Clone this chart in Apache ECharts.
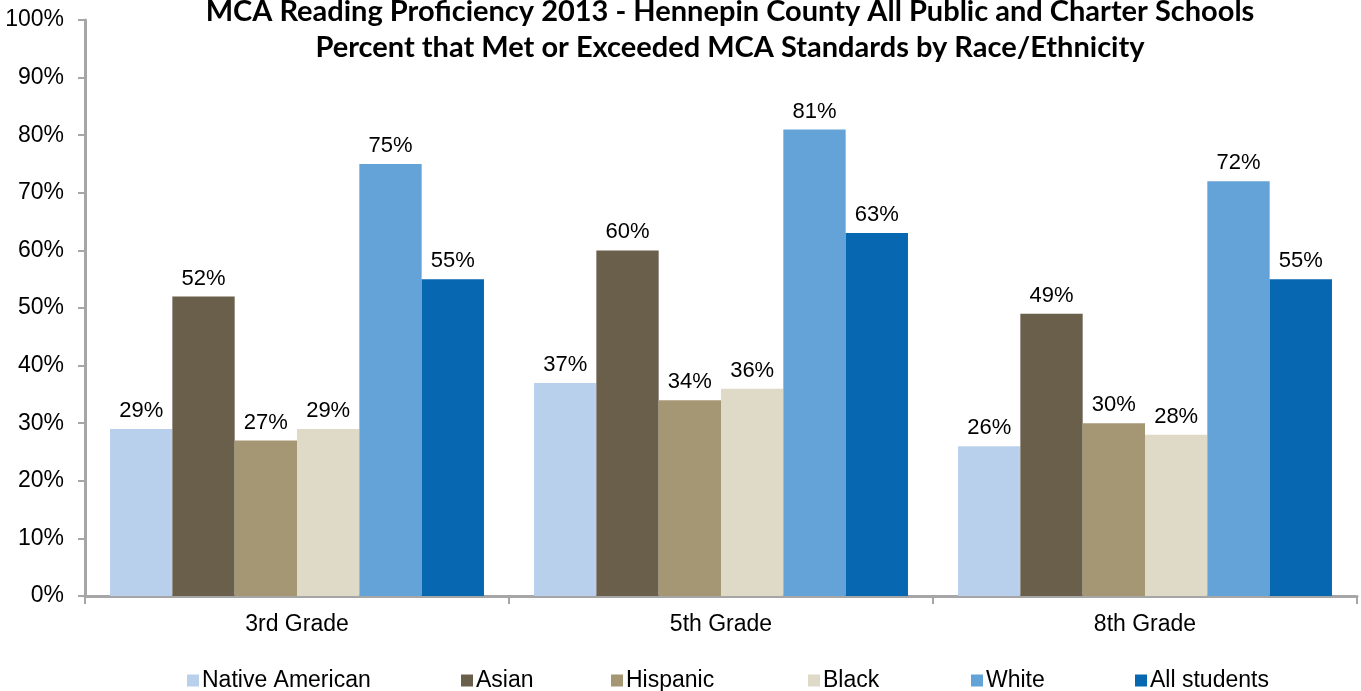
<!DOCTYPE html>
<html><head><meta charset="utf-8">
<script src="https://cdn.jsdelivr.net/npm/echarts@6/dist/echarts.min.js"></script>
<style>html,body{margin:0;padding:0;background:#fff}#c{width:1361px;height:691px}</style>
</head><body><div id="c"></div>
<script>
var titleLines = ["MCA Reading Proficiency 2013 - Hennepin County All Public and Charter Schools", "Percent that Met or Exceeded MCA Standards by Race/Ethnicity"];
var categories = ["3rd Grade", "5th Grade", "8th Grade"];
var seriesNames = ["Native American", "Asian", "Hispanic", "Black", "White", "All students"];
var nativeAmerican = [29, 37, 26];
var asian = [52, 60, 49];
var hispanic = [27, 34, 30];
var black = [29, 36, 28];
var white = [75, 81, 72];
var allStudents = [55, 63, 55];
var colors = ["#B9D0EC", "#6A5F4B", "#A69774", "#DFD9C8", "#63A3D8", "#0867B1"];
var values = [nativeAmerican, asian, hispanic, black, white, allStudents];
var legendLefts = [182, 456, 606, 803, 966, 1130];

var chart = echarts.init(document.getElementById('c'), null, {renderer: 'canvas'});
var font = '"Liberation Sans", Arial, sans-serif';
var series = seriesNames.map(function (n, i) {
  return {
    name: n, type: 'bar', data: values[i], barGap: '0%', barCategoryGap: '11.8%',
    itemStyle: {color: colors[i]},
    label: {show: true, position: 'top', distance: 7, formatter: '{c}%', color: '#000', fontSize: 22, fontFamily: font}
  };
});
var legends = seriesNames.map(function (n, i) {
  return {
    top: 664, left: legendLefts[i], itemWidth: 12, itemHeight: 12, icon: 'rect',
    textStyle: {fontFamily: font, fontSize: 23, color: '#000', padding: [0, 0, 0, -2]},
    data: [n]
  };
});
chart.setOption({
  animation: false,
  title: {
    text: titleLines.join('\n'), left: 725, textAlign: 'center', top: -11,
    textStyle: {fontFamily: 'Lato, sans-serif', fontWeight: 'bold', fontSize: 29, lineHeight: 36, color: '#000'}
  },
  legend: legends,
  grid: {left: 85, right: 4, top: 20, bottom: 95, containLabel: false},
  xAxis: {
    type: 'category', data: categories,
    axisLine: {lineStyle: {color: '#A6A6A6', width: 3}},
    axisTick: {show: true, length: 8, lineStyle: {color: '#A6A6A6', width: 2}},
    axisLabel: {fontFamily: font, fontSize: 23, color: '#000', margin: 17}
  },
  yAxis: {
    type: 'value', min: 0, max: 100, interval: 10,
    splitLine: {show: false},
    axisLine: {show: true, lineStyle: {color: '#A6A6A6', width: 3}},
    axisTick: {show: true, length: 7, lineStyle: {color: '#A6A6A6', width: 2}},
    axisLabel: {fontFamily: font, fontSize: 23, color: '#000', margin: 21, formatter: '{value}%'}
  },
  series: series
});
</script></body></html>
